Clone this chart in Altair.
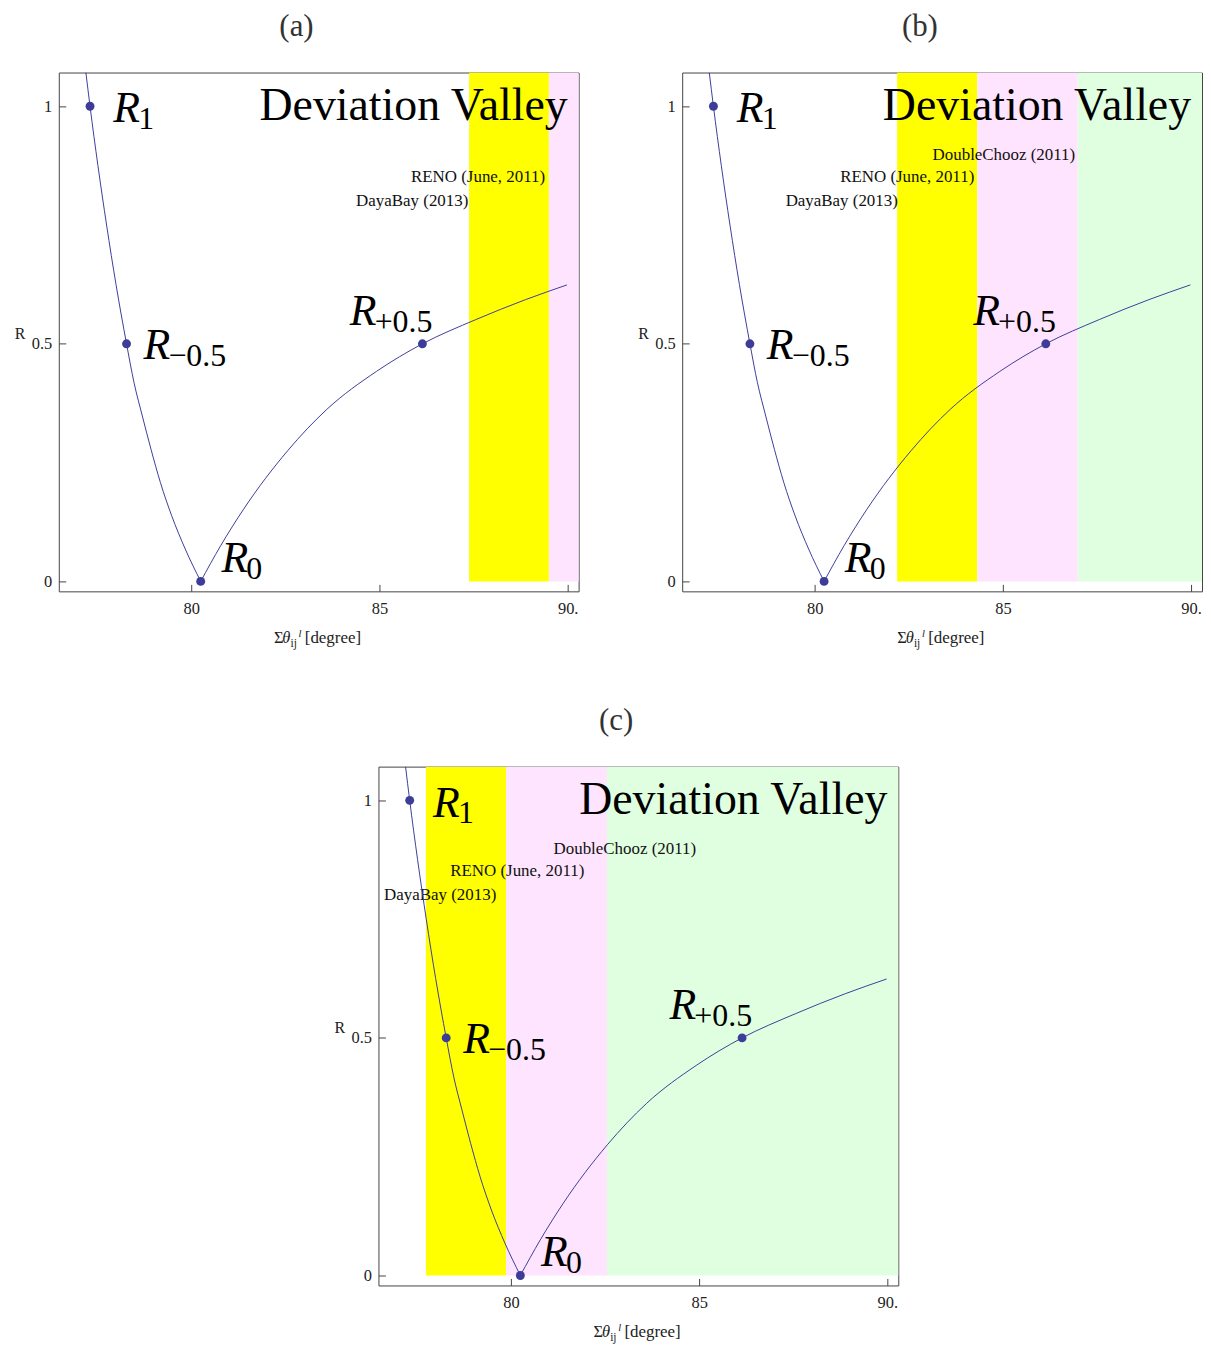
import altair as alt
import pandas as pd

FONT = "Liberation Serif"
BLUE = "#3d3d99"

# ---------------- data ----------------
left_x = [77.20, 77.31, 77.52, 77.75, 78.00, 78.28, 78.48, 78.70, 78.93, 79.18, 79.48, 79.84, 80.25]
left_y = [1.071, 1.000, 0.875, 0.750, 0.625, 0.500, 0.418, 0.348, 0.278, 0.208, 0.138, 0.068, 0.000]
right_x = [80.25, 80.78, 81.39, 82.56, 83.60, 84.92, 86.14, 87.56, 88.88, 89.98]
right_y = [0.000, 0.075, 0.152, 0.275, 0.362, 0.442, 0.500, 0.551, 0.593, 0.624]

pt_x = [77.31, 78.28, 80.25, 86.14]
pt_y = [1.0, 0.5, 0.0, 0.5]

rlab_x = [77.93, 78.73, 80.80, 84.21]
rlab_y = [0.966, 0.469, 0.019, 0.539]
rlab_sub = ["1", "\u22120.5", "0", "+0.5"]

experiments = ["DayaBay", "RENO", "DoubleChooz"]
exp_labels = ["DayaBay (2013)", "RENO (June, 2011)", "DoubleChooz (2011)"]
exp_label_y = [0.79, 0.84, 0.887]
exp_colors = ["#ffff00", "#ffe4ff", "#e0ffe0"]

# band edges per panel
a_start = [87.38, 89.50]
a_end = [89.50, 92.17]
b_start = [82.19, 84.32, 86.99]
b_end = [84.32, 86.99, 95.0]
c_start = [77.74, 79.87, 82.55]
c_end = [79.87, 82.55, 95.0]
# right end of each experiment label per panel
a_lab_x = [87.36, 89.40]
b_lab_x = [82.21, 84.24, 86.92]
c_lab_x = [79.61, 81.95, 84.92]

dv_text = ["Deviation Valley"]
dv_x = [90.0]
dv_y = [0.971]

x_ticks = [80, 85, 90]
y_ticks = [0, 0.5, 1]

# ---------------- chart ----------------
W, H = 522, 521

xscale = alt.Scale(domain=[76.48, 90.29], nice=False, zero=False)
yscale = alt.Scale(domain=[-0.021, 1.071], nice=False, zero=False)

xaxis = alt.Axis(values=x_ticks, labelExpr="datum.value == 90 ? '90.' : datum.label",
                 offset=-7, tickSize=7, domain=False, grid=False, labelPadding=9,
                 labelFont=FONT, labelFontSize=16.5, labelColor="#222", tickColor="#444",
                 title=None)
yaxis = alt.Axis(values=y_ticks, format="~g", offset=-7, tickSize=7, domain=False, grid=False,
                 labelPadding=7, labelFont=FONT, labelFontSize=16.5, labelColor="#222",
                 tickColor="#444", title="R", titleAngle=0, titleAlign="left",
                 titleBaseline="alphabetic", titleX=-51.6, titleY=266.7, titleFont=FONT,
                 titleFontSize=16, titleFontWeight="normal", titleColor="#222")


def X(f):
    return alt.X(f, scale=xscale, axis=xaxis)


def Y(f):
    return alt.Y(f, scale=yscale, axis=yaxis)


curve_df = pd.DataFrame({
    "x": left_x + right_x,
    "y": left_y + right_y,
    "branch": ["left"] * len(left_x) + ["right"] * len(right_x),
})
pts_df = pd.DataFrame({"x": pt_x, "y": pt_y})
rlab_df = pd.DataFrame({"x": rlab_x, "y": rlab_y, "sub": rlab_sub})
dv_df = pd.DataFrame({"x": dv_x, "y": dv_y, "t": dv_text})

xtitle_pieces = [
    ("\u03a3", 216.0, 572.7, 16.5, "normal"),
    ("\u03b8", 224.4, 572.7, 16.5, "italic"),
    ("ij", 232.7, 576.7, 11.5, "normal"),
    ("l", 240.7, 566.5, 10.5, "italic"),
    ("[degree]", 247.0, 572.7, 17, "normal"),
]


def panel(tag, starts, ends, lab_x):
    n = len(starts)
    bands = pd.DataFrame({
        "x0": starts, "x1": ends, "exp": experiments[:n],
        "y0": [0.0] * n, "y1": [1.071] * n,
    })
    labs = pd.DataFrame({"lx": lab_x, "ly": exp_label_y[:n], "lab": exp_labels[:n]})
    rect = alt.Chart(bands).mark_rect(clip=True).encode(
        x=X("x0:Q"), x2="x1:Q", y=Y("y0:Q"), y2="y1:Q",
        color=alt.Color("exp:N", scale=alt.Scale(domain=experiments, range=exp_colors), legend=None),
    )
    blab = alt.Chart(labs).mark_text(align="right", baseline="alphabetic", font=FONT,
                                     fontSize=17, color="#111").encode(
        x=X("lx:Q"), y=Y("ly:Q"), text="lab:N")
    line = alt.Chart(curve_df).mark_line(clip=True, color=BLUE, strokeWidth=1,
                                         interpolate="monotone").encode(
        x=X("x:Q"), y=Y("y:Q"), detail="branch:N")
    pts = alt.Chart(pts_df).mark_circle(size=80, color=BLUE, opacity=1).encode(
        x=X("x:Q"), y=Y("y:Q"))
    rmain = alt.Chart(rlab_df).mark_text(align="left", baseline="alphabetic", font=FONT,
                                         fontSize=44, fontStyle="italic", text="R",
                                         color="#000").encode(x=X("x:Q"), y=Y("y:Q"))
    rsub = alt.Chart(rlab_df).mark_text(align="left", baseline="alphabetic", font=FONT,
                                        fontSize=32, dx=25, dy=7, color="#000").encode(
        x=X("x:Q"), y=Y("y:Q"), text="sub:N")
    dv = alt.Chart(dv_df).mark_text(align="right", baseline="alphabetic", font=FONT,
                                    fontSize=46, color="#000").encode(
        x=X("x:Q"), y=Y("y:Q"), text="t:N")
    layers = [rect, blab, line, pts, rmain, rsub, dv]
    for txt, px, py, fs, st in xtitle_pieces:
        layers.append(
            alt.Chart(pd.DataFrame({"t": [txt]})).mark_text(
                align="left", baseline="alphabetic", font=FONT, fontSize=fs, fontStyle=st,
                color="#222").encode(x=alt.value(px), y=alt.value(py), text="t:N"))
    return alt.layer(*layers).properties(
        width=W, height=H,
        title=alt.TitleParams(text=tag, font=FONT, fontSize=31, fontWeight="normal",
                              frame="bounds", anchor="middle", baseline="alphabetic",
                              offset=5.3, color="#333"),
    )


A = panel("(a)", a_start, a_end, a_lab_x)
B = panel("(b)", b_start, b_end, b_lab_x)
C = panel("(c)", c_start, c_end, c_lab_x)

spacer = alt.Chart(pd.DataFrame({"t": [""]})).mark_text().encode(
    x=alt.value(0), y=alt.value(0), text="t:N"
).properties(width=274, height=10, view=alt.ViewBackground(stroke="transparent"))

chart = alt.vconcat(
    alt.hconcat(A, B, spacing=57),
    alt.hconcat(spacer, C, spacing=0),
    spacing=55,
).properties(
    padding={"left": 5, "top": 0, "right": 0, "bottom": 0}
).configure_view(stroke="#444", strokeWidth=1)

chart.save("out.html", embed_options={"renderer": "svg", "actions": False})
